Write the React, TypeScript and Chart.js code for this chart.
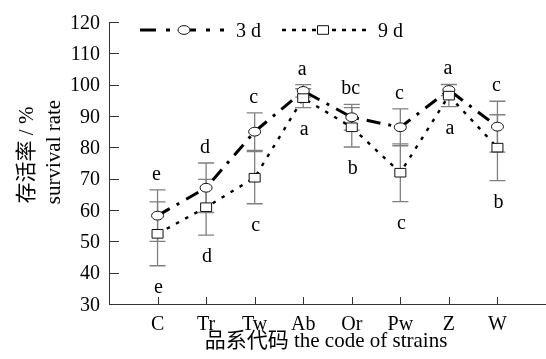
import { useEffect, useRef } from 'react';
import { Chart, registerables } from 'chart.js';

Chart.register(...registerables);

const categories = ['C', 'Tr', 'Tw', 'Ab', 'Or', 'Pw', 'Z', 'W'];
const seriesNames = ['3 d', '9 d'];
const survival3d = [58.2, 67.1, 85.0, 98.0, 89.6, 86.4, 98.3, 86.6];
const error3d = [8.2, 7.9, 6.0, 2.0, 4.1, 5.9, 1.8, 8.1];
const survival9d = [52.4, 60.9, 70.3, 95.7, 86.4, 71.9, 96.5, 79.9];
const error9d = [10.2, 8.9, 8.3, 3.0, 6.3, 9.2, 3.5, 10.5];
const letters3d = ['e', 'd', 'c', 'a', 'bc', 'c', 'a', 'c'];
const letters9d = ['e', 'd', 'c', 'a', 'b', 'c', 'a', 'b'];
const yTicks = [30, 40, 50, 60, 70, 80, 90, 100, 110, 120];
const xTitle = '品系代码 the code of strains';
const yTitle1 = '存活率 / %';
const yTitle2 = 'survival rate';

const SERIF = "'Liberation Serif', 'Times New Roman', 'Noto Sans CJK SC', serif";

function drawMarker(ctx: CanvasRenderingContext2D, kind: number, x: number, y: number) {
  ctx.save();
  ctx.setLineDash([]);
  ctx.fillStyle = '#ffffff';
  ctx.strokeStyle = '#111111';
  ctx.lineWidth = 1;
  ctx.beginPath();
  if (kind === 0) {
    ctx.ellipse(x, y, 6, 4.4, 0, 0, Math.PI * 2);
  } else {
    ctx.rect(x - 5.5, y - 4.3, 11, 8.6);
  }
  ctx.fill();
  ctx.stroke();
  ctx.restore();
}

export default function App() {
  const ref = useRef<HTMLCanvasElement | null>(null);

  useEffect(() => {
    if (!ref.current) return;
    const dash3 = [14, 8, 3, 8];
    const dash9 = [3.5, 7];

    const series = [
      { vals: survival3d, errs: error3d },
      { vals: survival9d, errs: error9d },
    ];

    const plugin = {
      id: 'custom',
      beforeDatasetsDraw(chart: any) {
        const ctx = chart.ctx;
        const xs = chart.scales.x;
        const ys = chart.scales.y;
        ctx.save();
        ctx.strokeStyle = '#808080';
        ctx.lineWidth = 1.3;
        series.forEach((s) => {
          s.vals.forEach((v, i) => {
            const x = xs.getPixelForValue(i + 1);
            const yt = ys.getPixelForValue(v + s.errs[i]);
            const yb = ys.getPixelForValue(v - s.errs[i]);
            ctx.beginPath();
            ctx.moveTo(x, yt);
            ctx.lineTo(x, yb);
            ctx.moveTo(x - 8, yt);
            ctx.lineTo(x + 8, yt);
            ctx.moveTo(x - 8, yb);
            ctx.lineTo(x + 8, yb);
            ctx.stroke();
          });
        });
        ctx.restore();
      },
      afterDatasetsDraw(chart: any) {
        const ctx = chart.ctx;
        [0, 1].forEach((d) => {
          const meta = chart.getDatasetMeta(d);
          meta.data.forEach((pt: any) => drawMarker(ctx, d, pt.x, pt.y));
        });
      },
      afterDraw(chart: any) {
        const ctx = chart.ctx;
        const xs = chart.scales.x;
        const ys = chart.scales.y;
        const area = chart.chartArea;
        ctx.save();
        ctx.strokeStyle = '#333';
        ctx.lineWidth = 1;
        ctx.beginPath();
        yTicks.forEach((t) => {
          if (t === ys.min) return;
          const y = Math.round(ys.getPixelForValue(t)) + 0.5;
          ctx.moveTo(area.left, y);
          ctx.lineTo(area.left + 10, y);
        });
        categories.forEach((_, i) => {
          const x = Math.round(xs.getPixelForValue(i + 1)) + 0.5;
          ctx.moveTo(x, area.bottom);
          ctx.lineTo(x, area.bottom - 7);
        });
        ctx.stroke();

        ctx.fillStyle = '#000';
        ctx.font = `20px ${SERIF}`;
        ctx.textBaseline = 'alphabetic';
        ctx.textAlign = 'right';
        yTicks.forEach((t) => {
          ctx.fillText(String(t), area.left - 9, ys.getPixelForValue(t) + 6.8);
        });
        ctx.textAlign = 'center';
        categories.forEach((c, i) => {
          ctx.fillText(c, xs.getPixelForValue(i + 1), area.bottom + 25.5);
        });

        categories.forEach((_, i) => {
          const x = xs.getPixelForValue(i + 1);
          const top = Math.max(survival3d[i] + error3d[i], survival9d[i] + error9d[i]);
          const bot = Math.min(survival3d[i] - error3d[i], survival9d[i] - error9d[i]);
          ctx.fillText(letters3d[i], x - 1, ys.getPixelForValue(top) - 10);
          ctx.fillText(letters9d[i], x + 1, ys.getPixelForValue(bot) + 27);
        });

        ctx.font = `21px ${SERIF}`;
        ctx.textAlign = 'center';
        ctx.fillText(xTitle, 326, 346.5);
        ctx.save();
        ctx.translate(33, 155);
        ctx.rotate(-Math.PI / 2);
        ctx.fillText(yTitle1, 0, 0);
        ctx.restore();
        ctx.save();
        ctx.translate(60, 152);
        ctx.rotate(-Math.PI / 2);
        ctx.fillText(yTitle2, 0, 0);
        ctx.restore();

        const legY = 30;
        const drawLegend = (x0: number, x1: number, xm: number, dash: number[], lw: number, kind: number, label: string) => {
          ctx.save();
          ctx.strokeStyle = '#000';
          ctx.lineWidth = lw;
          ctx.setLineDash(dash);
          ctx.beginPath();
          ctx.moveTo(x0, legY);
          ctx.lineTo(x1, legY);
          ctx.stroke();
          ctx.restore();
          drawMarker(ctx, kind, xm, legY);
          ctx.textAlign = 'left';
          ctx.font = `20px ${SERIF}`;
          ctx.fillStyle = '#000';
          ctx.fillText(label, x1 + 12, legY + 6.8);
        };
        drawLegend(140, 224, 184, [16, 10, 4, 10], 3, 0, seriesNames[0]);
        drawLegend(282, 366, 323, [4, 6], 2.4, 1, seriesNames[1]);
        ctx.restore();
      },
    };

    const chart = new Chart(ref.current, {
      type: 'line',
      data: {
        datasets: [
          {
            label: seriesNames[0],
            data: survival3d.map((v, i) => ({ x: i + 1, y: v })),
            borderColor: '#000',
            borderWidth: 3,
            borderDash: dash3,
            pointRadius: 0,
            tension: 0,
            fill: false,
          },
          {
            label: seriesNames[1],
            data: survival9d.map((v, i) => ({ x: i + 1, y: v })),
            borderColor: '#000',
            borderWidth: 2.4,
            borderDash: dash9,
            pointRadius: 0,
            tension: 0,
            fill: false,
          },
        ],
      },
      options: {
        animation: false,
        responsive: false,
        devicePixelRatio: 1,
        layout: { padding: { top: 22, right: 0, left: 0, bottom: 0 } },
        plugins: { legend: { display: false }, tooltip: { enabled: false } },
        scales: {
          x: {
            type: 'linear',
            min: 0,
            max: 9,
            grid: { display: false },
            border: { display: true, color: '#333', width: 1 },
            ticks: { display: false },
            afterFit: (s: any) => {
              s.height = 55;
            },
          },
          y: {
            min: 30,
            max: 120,
            grid: { display: false },
            border: { display: true, color: '#333', width: 1 },
            ticks: { display: false },
            afterFit: (s: any) => {
              s.width = 109;
            },
          },
        },
      },
      plugins: [plugin],
    });
    return () => chart.destroy();
  }, []);

  return (
    <div style={{ position: 'fixed', left: 0, top: 0, width: 546, height: 359, background: '#fff' }}>
      <canvas ref={ref} width={546} height={359} style={{ width: 546, height: 359, display: 'block' }} />
    </div>
  );
}
